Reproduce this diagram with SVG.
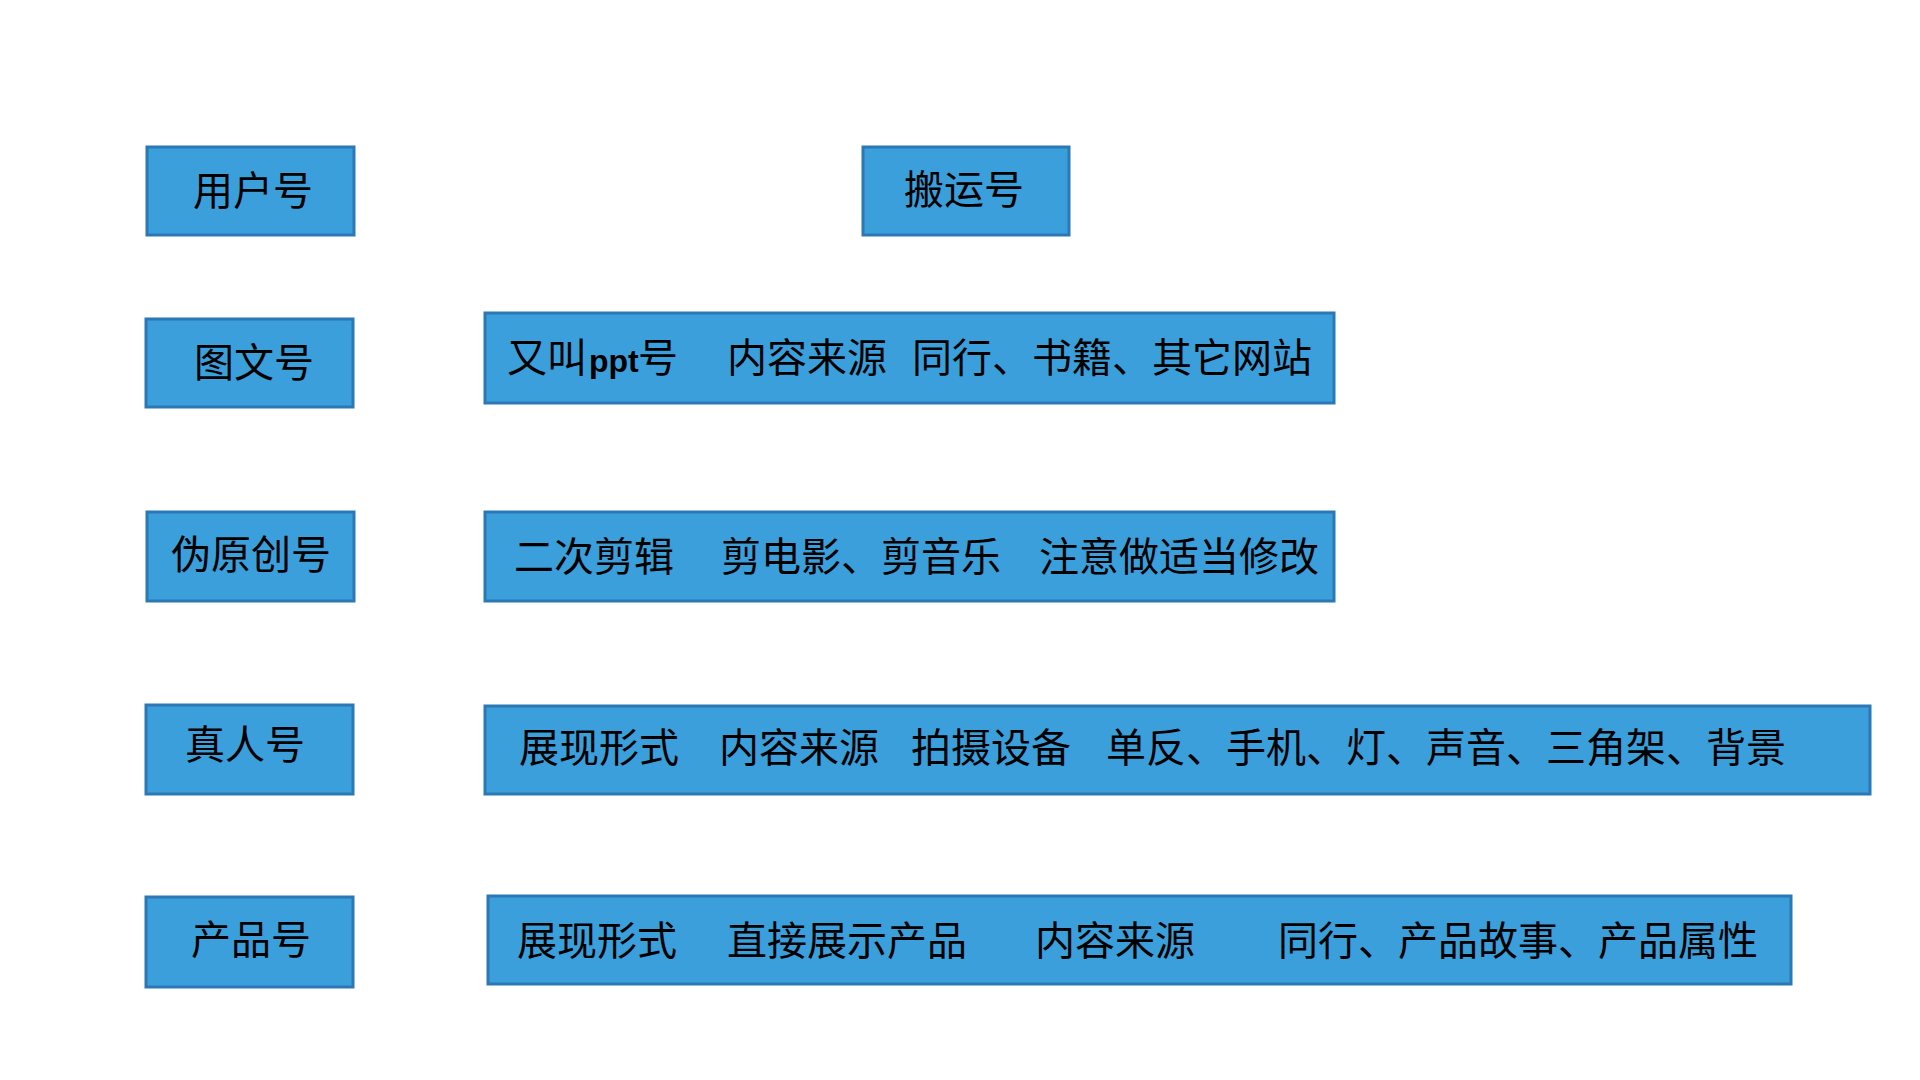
<svg xmlns="http://www.w3.org/2000/svg" width="1920" height="1080" viewBox="0 0 1920 1080">
<style>
.box{fill:#3a9fdb;stroke:#2b78b4;stroke-width:3}
.t{font-family:"Noto Sans CJK SC","Noto Sans CJK TC",sans-serif;font-size:40px;fill:#000}
.lat{font-family:"Liberation Sans",Arial,sans-serif;font-weight:bold;font-size:32px}
</style>
<rect width="1920" height="1080" fill="#ffffff"/>
<g id="connectors"/>
<g id="node-yonghuhao">
<rect class="box" x="147" y="147" width="207" height="88"/>
<text class="t" x="193" y="205">用户号</text>
</g>
<g id="node-banyunhao">
<rect class="box" x="863" y="147" width="206" height="88"/>
<text class="t" x="904" y="204">搬运号</text>
</g>
<g id="node-tuwenhao">
<rect class="box" x="146" y="319" width="207" height="88"/>
<text class="t" x="194" y="377">图文号</text>
</g>
<g id="node-tuwen-desc">
<rect class="box" x="485" y="313" width="849" height="90"/>
<text class="t" y="372"><tspan x="507">又叫</tspan><tspan class="lat" x="589">ppt</tspan><tspan x="638">号</tspan><tspan x="727">内容来源</tspan><tspan x="912">同行、书籍、其它网站</tspan></text>
</g>
<g id="node-weiyuanchuang">
<rect class="box" x="147" y="512" width="207" height="89"/>
<text class="t" x="171" y="569">伪原创号</text>
</g>
<g id="node-weiyuanchuang-desc">
<rect class="box" x="485" y="512" width="849" height="89"/>
<text class="t" y="571"><tspan x="514">二次剪辑</tspan><tspan x="721">剪电影、剪音乐</tspan><tspan x="1039">注意做适当修改</tspan></text>
</g>
<g id="node-zhenrenhao">
<rect class="box" x="146" y="705" width="207" height="89"/>
<text class="t" x="185" y="759">真人号</text>
</g>
<g id="node-zhenren-desc">
<rect class="box" x="485" y="706" width="1385" height="88"/>
<text class="t" y="762"><tspan x="519">展现形式</tspan><tspan x="719">内容来源</tspan><tspan x="911">拍摄设备</tspan><tspan x="1106">单反、手机、灯、声音、三角架、背景</tspan></text>
</g>
<g id="node-chanpinhao">
<rect class="box" x="146" y="897" width="207" height="90"/>
<text class="t" x="191" y="954">产品号</text>
</g>
<g id="node-chanpin-desc">
<rect class="box" x="488" y="896" width="1303" height="88"/>
<text class="t" y="955"><tspan x="517">展现形式</tspan><tspan x="727">直接展示产品</tspan><tspan x="1035">内容来源</tspan><tspan x="1278">同行、产品故事、产品属性</tspan></text>
</g>
</svg>
